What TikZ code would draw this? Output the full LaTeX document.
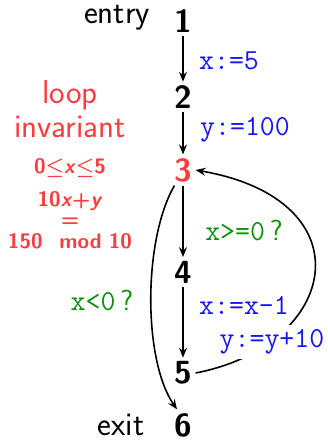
\documentclass[tikz,border=0pt]{standalone}
\usetikzlibrary{arrows.meta}
\definecolor{cblue}{RGB}{20,20,245}
\definecolor{cgreen}{RGB}{10,145,10}
\definecolor{cred}{RGB}{250,60,60}
\begin{document}
\begin{tikzpicture}[x=1pt,y=-1pt,
  line width=1.6pt,
  >={Stealth[length=10pt,width=8pt,inset=3.5pt]},
  num/.style={font=\sffamily\bfseries\fontsize{32}{34}\selectfont, inner sep=3pt},
  lbl/.style={font=\sffamily\fontsize{33}{35}\selectfont, inner sep=0pt},
  code/.style={font=\ttfamily\fontsize{29}{31}\selectfont, text=cblue, inner sep=1pt},
  cond/.style={font=\ttfamily\fontsize{29}{31}\selectfont, text=cgreen, inner sep=1pt},
  inv/.style={font=\sffamily\bfseries\boldmath\fontsize{21}{23}\selectfont, text=cred, inner sep=0pt},
]
\useasboundingbox (0,0) rectangle (328,440);
% nodes
\node[num] (n1) at (183,21) {1};
\node[num] (n2) at (183,97) {2};
\node[num,text=cred] (n3) at (183,170) {3};
\node[num] (n4) at (183,272) {4};
\node[num] (n5) at (183,373) {5};
\node[num] (n6) at (183,425) {6};
\node[lbl] (entry) at (117,18) {entry};
\node[lbl] (exit) at (121,425) {exit};
% invariant
\node[lbl,text=cred] (loop) at (70,95) {loop};
\node[lbl,text=cred] (invar) at (70,127) {invariant};
\node[inv] (i1) at (70,168) {0$\leq$\textit{x}$\leq$5};
\node[inv] (i2) at (70,201) {10\textit{x}+\textit{y}};
\node[inv] (i3) at (70,222) {=};
\node[inv] (i4) at (70,241) {150\hspace{0.8em}mod\hspace{0.35em}10};
% edges
\draw[->] (n1) -- (n2);
\draw[->] (n2) -- (n3);
\draw[->] (n3) -- (n4);
\draw[->] (n4) -- (n5);
\draw[->] ([xshift=4pt]n3.south west) .. controls (143,240) and (143,360) .. ([xshift=-6pt]n6.north);
\draw[->] (n5.east) .. controls (340,345) and (368,200) .. (n3.east);
% edge labels
\node[code] (a1) at (229,61) {x:=5};
\node[code] (a2) at (245,130) {y:=100};
\node[cond] (c1) at (244,230) {x>=0\,\textsf{?}};
\node[code] (a3) at (244,305) {x:=x-1};
\node[code,fill=white,inner sep=5pt] (a4) at (272,342) {y:=y+10};
\node[cond] (c2) at (102,300) {x<0\,\textsf{?}};
\end{tikzpicture}
\end{document}
